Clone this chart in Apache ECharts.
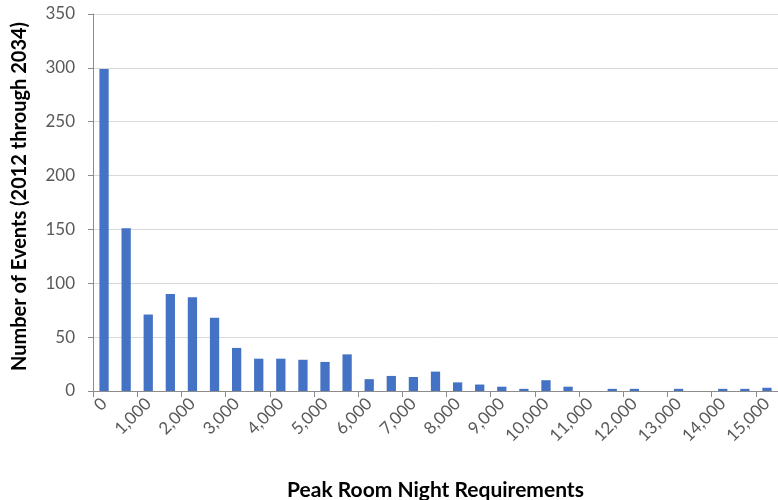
<!DOCTYPE html>
<html><head><meta charset="utf-8">
<script src="https://cdn.jsdelivr.net/npm/echarts@6/dist/echarts.min.js"></script>
<style>html,body{margin:0;padding:0;background:#fff}#c{width:778px;height:500px}</style>
</head><body><div id="c"></div>
<script>
const categories = [0,500,1000,1500,2000,2500,3000,3500,4000,4500,5000,5500,6000,6500,7000,7500,8000,8500,9000,9500,10000,10500,11000,11500,12000,12500,13000,13500,14000,14500,15000];
const events = [299,151,71,90,87,68,40,30,30,29,27,34,11,14,13,18,8,6,4,2,10,4,0,2,2,0,2,0,2,2,3];
const yTitle = 'Number of Events (2012 through 2034)';
const xTitle = 'Peak Room Night Requirements';
const FONT = 'Lato';
const chart = echarts.init(document.getElementById('c'));
chart.setOption({
  animation:false,
  textStyle:{fontFamily:FONT},
  grid:{left:93,right:0,top:14,bottom:109,containLabel:false,outerBoundsMode:'none'},
  xAxis:{type:'category',data:categories.map(v=>v.toLocaleString('en-US')),
    boundaryGap:true,
    name:xTitle,nameLocation:'middle',nameGap:89,
    nameTextStyle:{fontFamily:FONT,fontWeight:'bold',fontSize:21,color:'#000'},
    axisLine:{lineStyle:{color:'#8c8c8c',width:1}},
    axisTick:{show:true,interval:1,length:6,lineStyle:{color:'#8c8c8c'}},
    axisLabel:{interval:1,rotate:45,fontSize:17,color:'#595959',fontFamily:FONT,margin:10}
  },
  yAxis:{type:'value',min:0,max:350,interval:50,
    name:yTitle,nameLocation:'middle',nameGap:63,
    nameTextStyle:{fontFamily:FONT,fontWeight:'bold',fontSize:20,color:'#000',padding:[0,0,0,12]},
    axisLine:{show:true,lineStyle:{color:'#8c8c8c'}},
    axisTick:{show:true,length:5,lineStyle:{color:'#8c8c8c'}},
    axisLabel:{fontSize:17,color:'#595959',fontFamily:FONT,margin:18},
    splitLine:{lineStyle:{color:'#d9d9d9'}}
  },
  series:[{type:'bar',data:events,barWidth:'42%',itemStyle:{color:'#4472C4'}}]
});
</script></body></html>
